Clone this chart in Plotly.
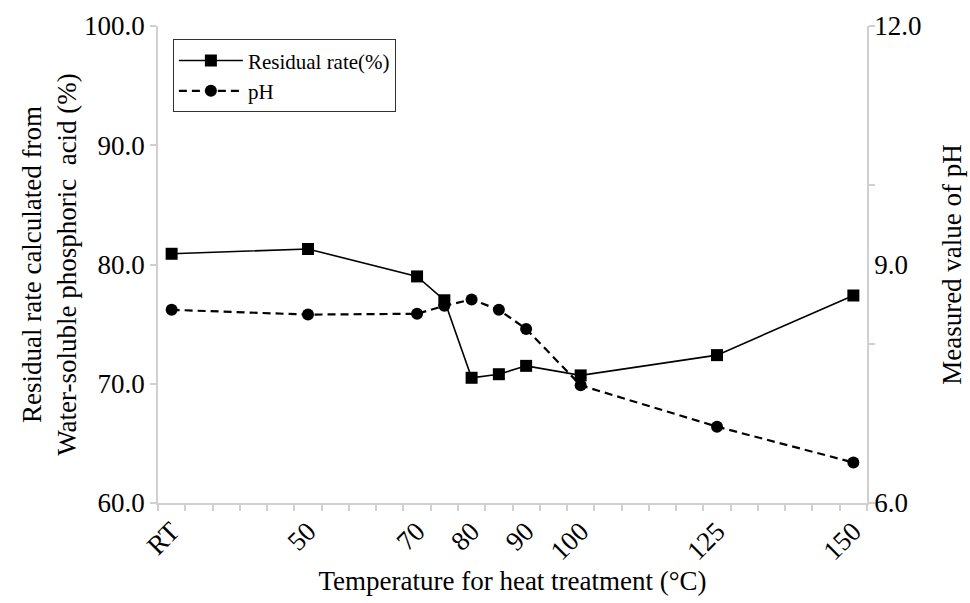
import plotly.graph_objects as go

# Data
temperature = [25, 50, 70, 75, 80, 85, 90, 100, 125, 150]   # 25 = room temperature (RT)
residual_rate = [80.9, 81.3, 79.0, 77.0, 70.5, 70.8, 71.5, 70.7, 72.4, 77.4]
ph_values = [8.43, 8.37, 8.38, 8.48, 8.56, 8.43, 8.19, 7.48, 6.96, 6.51]

x_tick_vals = [25, 50, 70, 80, 90, 100, 125, 150]
x_tick_text = ["RT", "50", "70", "80", "90", "100", "125", "150"]
y_tick_vals = [60, 70, 80, 90, 100]
y2_tick_vals = [6, 9, 12]

FONT = "Liberation Serif, Times New Roman, serif"
AXIS_GRAY = "#d0d0d0"

fig = go.Figure()
fig.add_trace(go.Scatter(
    x=temperature, y=residual_rate, name="Residual rate(%)",
    mode="lines+markers",
    line=dict(color="black", width=1.6),
    marker=dict(symbol="square", size=12, color="black"),
))
fig.add_trace(go.Scatter(
    x=temperature, y=ph_values, name="pH", yaxis="y2",
    mode="lines+markers",
    line=dict(color="black", width=2.2, dash="8px,5px"),
    marker=dict(symbol="circle", size=12, color="black"),
))

fig.update_layout(
    width=970, height=603,
    margin=dict(l=158, r=103, t=26, b=100, autoexpand=False),
    paper_bgcolor="white", plot_bgcolor="white",
    font=dict(family=FONT, color="black", size=27),
    showlegend=True,
    legend=dict(
        x=0.021, y=0.972, xanchor="left", yanchor="top",
        bgcolor="white", bordercolor="#333333", borderwidth=1,
        font=dict(family=FONT, size=21, color="black"),
        itemwidth=64, tracegroupgap=0,
    ),
    xaxis=dict(
        range=[22.5, 152.5], automargin=False,
        tickmode="array", tickvals=x_tick_vals, ticktext=x_tick_text,
        tickangle=-45, ticks="", showgrid=False, zeroline=False,
        showline=True, linecolor=AXIS_GRAY, linewidth=1.5,
        tickfont=dict(size=27),
        minor=dict(tick0=22.5, dtick=5, ticks="outside", ticklen=6,
                   tickcolor=AXIS_GRAY, tickwidth=1.5, showgrid=False),
        title=dict(text="Temperature for heat treatment (°C)", font=dict(size=27), standoff=4),
    ),
    yaxis=dict(
        range=[60, 100], automargin=False,
        tickmode="array", tickvals=y_tick_vals, tickformat=".1f",
        ticks="outside", ticklen=6, tickcolor=AXIS_GRAY, tickwidth=1.5,
        showgrid=False, zeroline=False,
        showline=True, linecolor=AXIS_GRAY, linewidth=1.5,
        tickfont=dict(size=27),
        title=dict(text="Residual rate calculated from<br>Water-soluble phosphoric  acid (%)",
                   font=dict(size=27), standoff=0),
    ),
    yaxis2=dict(
        range=[6, 12], overlaying="y", side="right", automargin=False,
        tickmode="array", tickvals=y2_tick_vals, tickformat=".1f",
        ticks="", showgrid=False, zeroline=False,
        showline=True, linecolor=AXIS_GRAY, linewidth=1.5,
        tickfont=dict(size=27),
        minor=dict(tick0=6, dtick=2, ticks="outside", ticklen=6,
                   tickcolor=AXIS_GRAY, tickwidth=1.5, showgrid=False),
        title=dict(text="Measured value of pH", font=dict(size=27), standoff=22),
    ),
)

fig.write_html("out.html")
